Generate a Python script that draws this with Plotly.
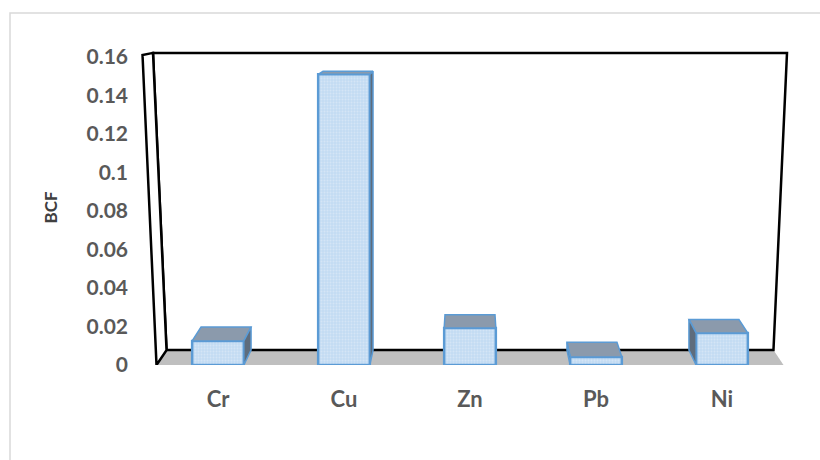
import plotly.graph_objects as go

# Bioconcentration factor per metal
metals = ["Cr", "Cu", "Zn", "Pb", "Ni"]
bcf = [0.0125, 0.151, 0.0192, 0.0042, 0.0166]
y_ticks = [0, 0.02, 0.04, 0.06, 0.08, 0.1, 0.12, 0.14, 0.16]
y_tick_text = ["0", "0.02", "0.04", "0.06", "0.08", "0.1", "0.12", "0.14", "0.16"]

# --- 3D look: simple perspective toward a vanishing point (data units) ---
VP_X, VP_Y = 2.0, 0.1886
KX, KY = 0.032, 0.041          # how much the back plane shrinks toward VP
BAR_W = 0.41
WALL_TOP = 0.161
WALL_BOTTOM_HALF = 2.488       # half-width of the floor front edge around VP_X
WALL_TOP_HALF = 2.599          # half-width of the front plane at the top (slanted edges)
X_RANGE = [-0.619, 4.619]
Y_RANGE = [0, 0.16364]

W, H = 820, 460
ML, MR, MT, MB = 140, 20, 50, 95
PW, PH = W - ML - MR, H - MT - MB

FACE = "#C3DBF2"
EDGE = "#5B9BD5"
TOP = "#8B9AAC"
SIDE = "#5E6C7C"
TXT = "#595959"


def back(x, y):
    return VP_X + (x - VP_X) * (1 - KX), VP_Y + (y - VP_Y) * (1 - KY)


def path(points):
    return "M " + " L ".join(f"{x},{y}" for x, y in points) + " Z"


def px_to_paper(px, py):
    return (px - ML) / PW, (H - MB - py) / PH


fig = go.Figure()

# front faces of the columns
fig.add_trace(go.Bar(
    x=list(range(len(metals))), y=bcf, width=BAR_W,
    marker=dict(color=FACE, line=dict(color=EDGE, width=2.5),
                pattern=dict(shape=".", fgcolor="#E6F0FA", bgcolor=FACE,
                             size=3, solidity=0.35)),
    hoverinfo="skip", showlegend=False,
))

# top and side faces computed from each value
for i, v in enumerate(bcf):
    xl, xr = i - BAR_W / 2, i + BAR_W / 2
    top = [(xl, v), (xr, v), back(xr, v), back(xl, v)]
    fig.add_trace(go.Scatter(
        x=[p[0] for p in top] + [top[0][0]], y=[p[1] for p in top] + [top[0][1]],
        mode="lines", fill="toself", fillcolor=TOP,
        line=dict(color=EDGE, width=1.5), hoverinfo="skip", showlegend=False,
        cliponaxis=False,
    ))
    if abs(i - VP_X) > 0.3:
        xs = xr if i < VP_X else xl
        side = [(xs, 0), (xs, v), back(xs, v), back(xs, 0)]
        fig.add_trace(go.Scatter(
            x=[p[0] for p in side] + [side[0][0]], y=[p[1] for p in side] + [side[0][1]],
            mode="lines", fill="toself", fillcolor=SIDE,
            line=dict(color=EDGE, width=1.5), hoverinfo="skip", showlegend=False,
            cliponaxis=False,
        ))

# walls and floor
fl = (VP_X - WALL_BOTTOM_HALF, 0)
fr = (VP_X + WALL_BOTTOM_HALF, 0)
tl = (VP_X - WALL_TOP_HALF, WALL_TOP)
tr = (VP_X + WALL_TOP_HALF, WALL_TOP)
shapes = [
    dict(type="path", path=path([fl, fr, back(*fr), back(*fl)]),
         xref="x", yref="y", fillcolor="#BFBFBF", line=dict(width=0), layer="below"),
    dict(type="path", path=path([back(*tl), back(*tr), back(*fr), back(*fl)]),
         xref="x", yref="y", fillcolor="white", line=dict(color="black", width=2.5),
         layer="below"),
    dict(type="path", path=path([fl, tl, back(*tl), back(*fl)]),
         xref="x", yref="y", fillcolor="white", line=dict(color="black", width=2.5),
         layer="below"),
]

# light chart-area border
bx0, by0 = px_to_paper(10, 13)
bx1, by1 = px_to_paper(830, 470)
shapes.append(dict(type="rect", xref="paper", yref="paper", x0=bx0, y0=by1, x1=bx1, y1=by0,
                   line=dict(color="#D9D9D9", width=1.5), fillcolor="rgba(0,0,0,0)",
                   layer="below"))

fig.update_layout(
    width=W, height=H,
    margin=dict(l=ML, r=MR, t=MT, b=MB, pad=0),
    paper_bgcolor="white", plot_bgcolor="rgba(0,0,0,0)",
    shapes=shapes,
    font=dict(family="Lato", color=TXT),
    xaxis=dict(range=X_RANGE, tickmode="array", tickvals=list(range(len(metals))),
               ticktext=metals, showgrid=False, zeroline=False, showline=False,
               tickfont=dict(size=22, weight="bold", color=TXT),
               ticklabelstandoff=19, fixedrange=True),
    yaxis=dict(range=Y_RANGE, tickmode="array", tickvals=y_ticks, ticktext=y_tick_text,
               showgrid=False, zeroline=False, showline=False,
               tickfont=dict(size=21, weight="bold", color=TXT),
               ticklabelstandoff=11,
               title=dict(text="BCF", font=dict(size=17, weight="bold", color="#404040"),
                          standoff=24),
               fixedrange=True),
)

fig.write_html("out.html")
